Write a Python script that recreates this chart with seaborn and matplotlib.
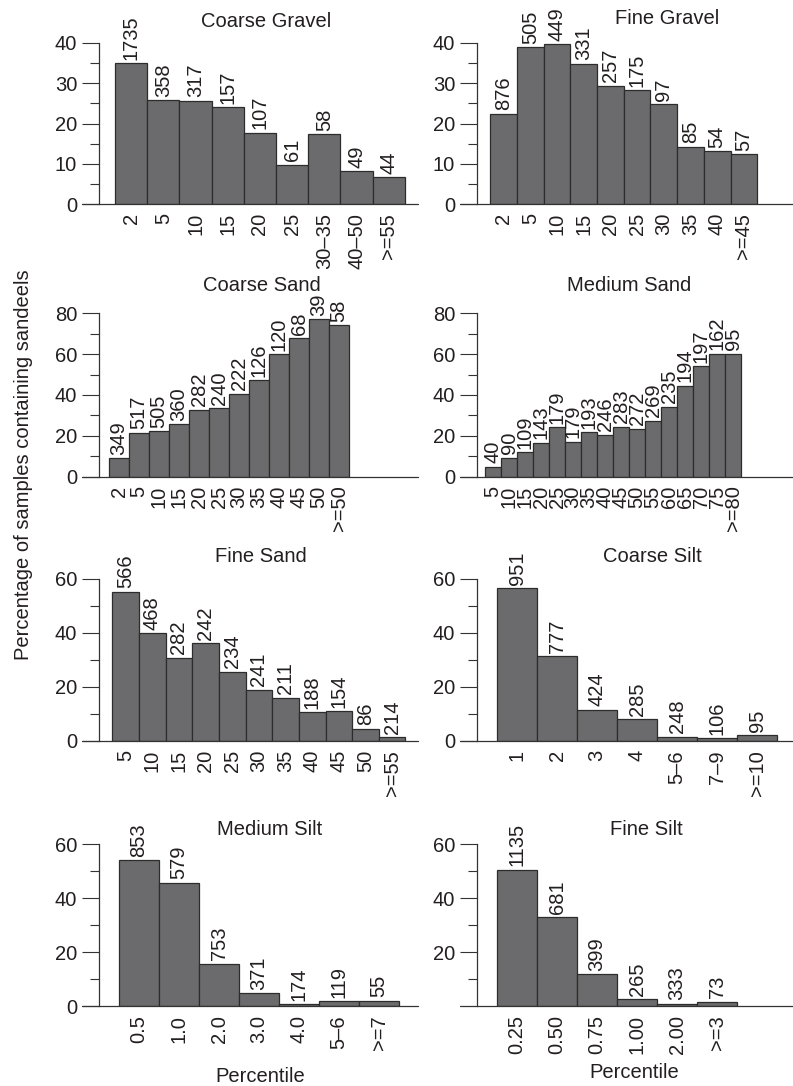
import matplotlib
matplotlib.use("Agg")
import matplotlib.pyplot as plt
import pandas as pd
import seaborn as sns
from matplotlib.ticker import FixedLocator

sns.set_style("white")
plt.rcParams["font.family"] = ["Liberation Sans", "DejaVu Sans"]

# ---- data (percentage of samples with sandeels, and sample counts) ----
coarse_gravel_bins = ["2", "5", "10", "15", "20", "25", "30\u201335", "40\u201350", ">=55"]
coarse_gravel_pct = [35.0, 25.8, 25.6, 24.1, 17.7, 9.8, 17.3, 8.1, 6.7]
coarse_gravel_n = [1735, 358, 317, 157, 107, 61, 58, 49, 44]

fine_gravel_bins = ["2", "5", "10", "15", "20", "25", "30", "35", "40", ">=45"]
fine_gravel_pct = [22.4, 38.9, 39.7, 34.8, 29.4, 28.2, 24.8, 14.2, 13.1, 12.3]
fine_gravel_n = [876, 505, 449, 331, 257, 175, 97, 85, 54, 57]

coarse_sand_bins = ["2", "5", "10", "15", "20", "25", "30", "35", "40", "45", "50", ">=50"]
coarse_sand_pct = [9.0, 21.5, 22.3, 25.6, 32.7, 33.5, 40.6, 47.1, 59.9, 67.7, 77.0, 74.2]
coarse_sand_n = [349, 517, 505, 360, 282, 240, 222, 126, 120, 68, 39, 58]

medium_sand_bins = ["5", "10", "15", "20", "25", "30", "35", "40", "45", "50",
                    "55", "60", "65", "70", "75", ">=80"]
medium_sand_pct = [4.9, 9.1, 11.9, 16.6, 24.1, 17.1, 21.6, 20.5, 24.4, 23.4,
                   27.3, 34.1, 44.4, 54.1, 60.2, 60.2]
medium_sand_n = [40, 90, 109, 143, 179, 179, 193, 246, 283, 272, 269, 235, 194, 197, 162, 95]

fine_sand_bins = ["5", "10", "15", "20", "25", "30", "35", "40", "45", "50", ">=55"]
fine_sand_pct = [55.2, 39.9, 30.9, 36.2, 25.6, 19.0, 16.0, 10.7, 11.0, 4.6, 1.4]
fine_sand_n = [566, 468, 282, 242, 234, 241, 211, 188, 154, 86, 214]

coarse_silt_bins = ["1", "2", "3", "4", "5\u20136", "7\u20139", ">=10"]
coarse_silt_pct = [56.5, 31.4, 11.5, 8.1, 1.6, 1.0, 2.2]
coarse_silt_n = [951, 777, 424, 285, 248, 106, 95]

medium_silt_bins = ["0.5", "1.0", "2.0", "3.0", "4.0", "5\u20136", ">=7"]
medium_silt_pct = [54.0, 45.7, 15.7, 4.8, 0.7, 1.7, 1.9]
medium_silt_n = [853, 579, 753, 371, 174, 119, 55]

fine_silt_bins = ["0.25", "0.50", "0.75", "1.00", "2.00", ">=3"]
fine_silt_pct = [50.4, 32.9, 11.8, 2.6, 0.9, 1.5]
fine_silt_n = [1135, 681, 399, 265, 333, 73]

titles = ["Coarse Gravel", "Fine Gravel", "Coarse Sand", "Medium Sand",
          "Fine Sand", "Coarse Silt", "Medium Silt", "Fine Silt"]
all_bins = [coarse_gravel_bins, fine_gravel_bins, coarse_sand_bins, medium_sand_bins,
            fine_sand_bins, coarse_silt_bins, medium_silt_bins, fine_silt_bins]
all_pct = [coarse_gravel_pct, fine_gravel_pct, coarse_sand_pct, medium_sand_pct,
           fine_sand_pct, coarse_silt_pct, medium_silt_pct, fine_silt_pct]
all_n = [coarse_gravel_n, fine_gravel_n, coarse_sand_n, medium_sand_n,
         fine_sand_n, coarse_silt_n, medium_silt_n, fine_silt_n]
y_major = [[0, 10, 20, 30, 40], [0, 10, 20, 30, 40],
           [0, 20, 40, 60, 80], [0, 20, 40, 60, 80],
           [0, 20, 40, 60], [0, 20, 40, 60],
           [0, 20, 40, 60], [20, 40, 60]]

# ---- layout (pixels) ----
W, H = 793, 1086
cols = [(99, 418), (477, 793)]
rows = [(204, 43), (476.5, 313.3), (741, 579), (1006, 844)]
x_right = [8.91, 10.84, 14.95, 18.75, 10.97, 6.9, 6.975, 6.9]
title_pos = [(265.7, 26.7), (666.7, 24), (262, 290.7), (628.8, 290.7),
             (260.8, 561.7), (652.5, 561.7), (270, 835), (646, 835)]
xlab_pos = {6: (260, 1081.7), 7: (634, 1078.3)}

BAR = "#6b6b6d"
EDGE = "#2c2c2c"
AXC = "#333333"
TXT = "#231f20"
FS = 14.5

fig = plt.figure(figsize=(W / 100, H / 100), dpi=100)

for i, title in enumerate(titles):
    c0, c1 = cols[i % 2]
    y0, y1 = rows[i // 2]
    ax = fig.add_axes([c0 / W, 1 - y0 / H, (c1 - c0) / W, (y0 - y1) / H])
    df = pd.DataFrame({"bin": all_bins[i], "pct": all_pct[i]})
    sns.barplot(data=df, x="bin", y="pct", ax=ax, color=BAR, saturation=1,
                width=1, edgecolor=EDGE, linewidth=0.9)
    ax.bar_label(ax.containers[0], labels=[str(v) for v in all_n[i]],
                 rotation=90, padding=2.5, fontsize=FS, color=TXT)

    major = y_major[i]
    step = major[1] - major[0]
    ymax = major[-1]
    minor = [m + step / 2 for m in range(0, ymax, step)]

    # baseline running from the tip of the major ticks to the panel edge
    axw = c1 - c0
    ax.plot([-17 / axw, 1], [0, 0], transform=ax.get_yaxis_transform(),
            clip_on=False, color=AXC, lw=0.9)

    ax.set_xlim(-1, x_right[i])
    ax.set_ylim(0, ymax)
    ax.yaxis.set_major_locator(FixedLocator(major))
    ax.yaxis.set_minor_locator(FixedLocator(minor))
    ax.tick_params(axis="y", which="major", left=True, length=12.2, width=0.8,
                   pad=3.5, labelsize=FS, color=AXC, labelcolor=TXT)
    ax.tick_params(axis="y", which="minor", left=True, length=6.5, width=0.8, color=AXC)
    ax.tick_params(axis="x", bottom=False, length=0, pad=6.5, labelsize=FS,
                   labelrotation=90, labelcolor=TXT)
    for s in ["top", "right", "bottom"]:
        ax.spines[s].set_visible(False)
    ax.spines["left"].set_color(AXC)
    ax.spines["left"].set_linewidth(0.9)
    ax.set_xlabel("")
    ax.set_ylabel("")

    tx, ty = title_pos[i]
    fig.text(tx / W, 1 - ty / H, title, ha="center", va="baseline", fontsize=FS, color=TXT)
    if i in xlab_pos:
        lx, ly = xlab_pos[i]
        fig.text(lx / W, 1 - ly / H, "Percentile", ha="center", va="baseline",
                 fontsize=FS, color=TXT)

fig.text(24 / W, 1 - 465 / H, "Percentage of samples containing sandeels",
         rotation=90, ha="center", va="center", fontsize=FS, color=TXT)

fig.savefig("out.png", dpi=100)
